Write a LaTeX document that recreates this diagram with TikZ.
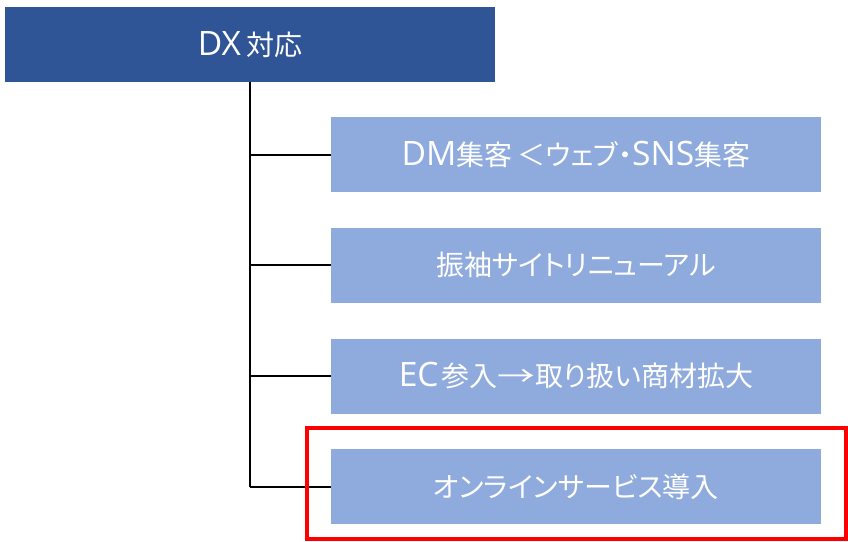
\documentclass[tikz,border=0pt]{standalone}
\usepackage{fontspec}
\setmainfont{Noto Sans CJK JP}
\newfontfamily\latfont[Scale=1.2]{Open Sans}
\newfontfamily\kanafont[RawFeature=+palt]{Noto Sans CJK JP}
\definecolor{topblue}{HTML}{2F5597}
\definecolor{childblue}{HTML}{8FAADC}
\definecolor{hilite}{HTML}{FF0000}
\begin{document}
\begin{tikzpicture}[x=1pt,y=-1pt,
  topbox/.style={draw=none,fill=topblue,text=white,minimum width=490pt,minimum height=75pt,inner sep=0pt,font=\fontsize{28}{32}\selectfont},
  childbox/.style={draw=none,fill=childblue,text=white,minimum width=490pt,minimum height=75pt,inner sep=0pt,font=\fontsize{28}{32}\selectfont},
  link/.style={draw=black,line width=2pt},
  mark box/.style={draw=hilite,line width=4.5pt}]
\useasboundingbox (0,0) rectangle (848,541);
\node[topbox] (root) at (250,44.5) {{\latfont DX}\hspace{5pt}対応};
\node[childbox] (c1) at (576,154.5) {{\latfont DM}集客\hspace{5pt}＜{\kanafont ウェブ・}{\latfont SNS}集客};
\node[childbox] (c2) at (576,265) {振袖{\kanafont サイトリニューアル}};
\node[childbox] (c3) at (576,376) {{\latfont EC}\hspace{3pt}参入\scalebox{1.35}[1]{→}取{\kanafont り}扱{\kanafont い}商材拡大};
\node[childbox] (c4) at (576,486.5) {{\kanafont オンラインサービス}導入};
\coordinate (trunk) at (250,487);
\draw[link] (root.south -| trunk) -- (trunk);
\draw[link] (c1.west) -- (c1.west -| trunk);
\draw[link] (c2.west) -- (c2.west -| trunk);
\draw[link] (c3.west) -- (c3.west -| trunk);
\draw[link] (c4.west) -- (c4.west -| trunk);
\node[mark box,minimum width=539pt,minimum height=111pt,inner sep=0pt] (hl) at (576.5,483.5) {};
\end{tikzpicture}
\end{document}
